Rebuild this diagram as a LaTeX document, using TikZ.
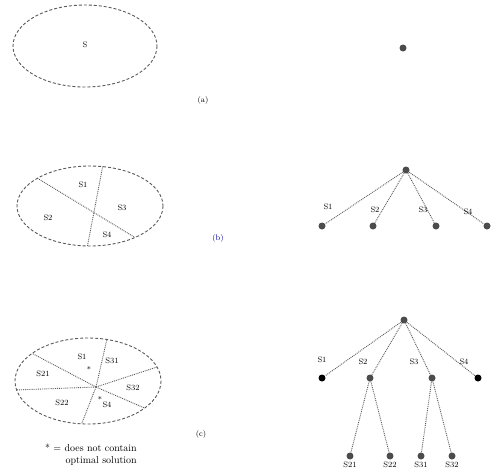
\documentclass[tikz,border=0pt]{standalone}
\usepackage{tikz}
\usetikzlibrary{calc, positioning}

\begin{document}
\begin{tikzpicture}[x=1pt, y=-1pt, font=\footnotesize,
    region/.style={densely dashed, line width=0.9pt, gray!70!black},
    cut/.style={densely dotted, line width=0.9pt, gray!70!black},
    vtx/.style={circle, fill=gray!60!black, inner sep=0pt, minimum size=7pt},
    pruned/.style={vtx, fill=black},
    branch/.style={densely dotted, line width=0.9pt, gray!70!black},
    lbl/.style={font=\footnotesize, inner sep=1pt}]
    \useasboundingbox (0,0) rectangle (493,475);

    % (a) whole set
    \draw[region] (85,46) ellipse [x radius=72, y radius=41];
    \node[lbl] (sA) at (85,45) {S};
    \node[vtx] (rootA) at (403,48) {};
    \node (capA) at (203,100) {(a)};

    % (b) first split
    \coordinate (cB) at (90,206);
    \draw[region] (cB) ellipse [x radius=73, y radius=40];
    \draw[cut] ($(cB)+(224:73 and 40)$) -- ($(cB)+(52:73 and 40)$);
    \draw[cut] ($(cB)+(280:73 and 40)$) -- ($(cB)+(92:73 and 40)$);
    \node[lbl] at (83,185) {S1};
    \node[lbl] at (48,218) {S2};
    \node[lbl] at (122,208) {S3};
    \node[lbl] at (107,235) {S4};

    \node[vtx] (rootB) at (406,170) {};
    \foreach \x/\n in {322/1, 373/2, 436/3, 487/4} {
        \node[vtx] (b\n) at (\x,226) {};
        \draw[branch] (rootB) -- (b\n);
    }
    \node[lbl] at (328,207) {S1};
    \node[lbl] at (375,210) {S2};
    \node[lbl] at (423,210) {S3};
    \node[lbl] at (468,212) {S4};
    \node[text=blue!60!black] (capB) at (218,238) {(b)};

    % (c) second split
    \coordinate (cC) at (88,381);
    \coordinate (mid) at (96,387);
    \draw[region] (cC) ellipse [x radius=73, y radius=43];
    \foreach \a in {220, 285, 341, 39, 95, 168}
        \draw[cut] (mid) -- ($(cC)+(\a:73 and 43)$);
    \node[lbl] at (82,357) {S1};
    \node[lbl] at (112,361) {S31};
    \node[lbl] at (43,374) {S21};
    \node[lbl] at (133,388) {S32};
    \node[lbl] at (62,403) {S22};
    \node[lbl] at (107,405) {S4};
    \node[lbl] at (89,369) {*};
    \node[lbl] at (100,399) {*};
    \node[font=\normalsize, inner sep=1pt, align=right, anchor=east] (key) at (138,455) {* = does not contain\\optimal solution};
    \node (capC) at (201,434) {(c)};

    \node[vtx] (rootC) at (404,320) {};
    \node[pruned] (c1) at (322,378) {};
    \node[vtx] (c2) at (370,378) {};
    \node[vtx] (c3) at (432,378) {};
    \node[pruned] (c4) at (478,378) {};
    \foreach \n in {1,2,3,4}
        \draw[branch] (rootC) -- (c\n);
    \node[lbl] at (322,360) {S1};
    \node[lbl] at (363,362) {S2};
    \node[lbl] at (414,362) {S3};
    \node[lbl] at (464,362) {S4};
    \foreach \x/\n/\p in {350/21/2, 390/22/2, 421/31/3, 452/32/3} {
        \node[vtx] (c\n) at (\x,456) {};
        \draw[branch] (c\p) -- (c\n);
        \node[lbl, below=1pt of c\n] {S\n};
    }
\end{tikzpicture}
\end{document}
